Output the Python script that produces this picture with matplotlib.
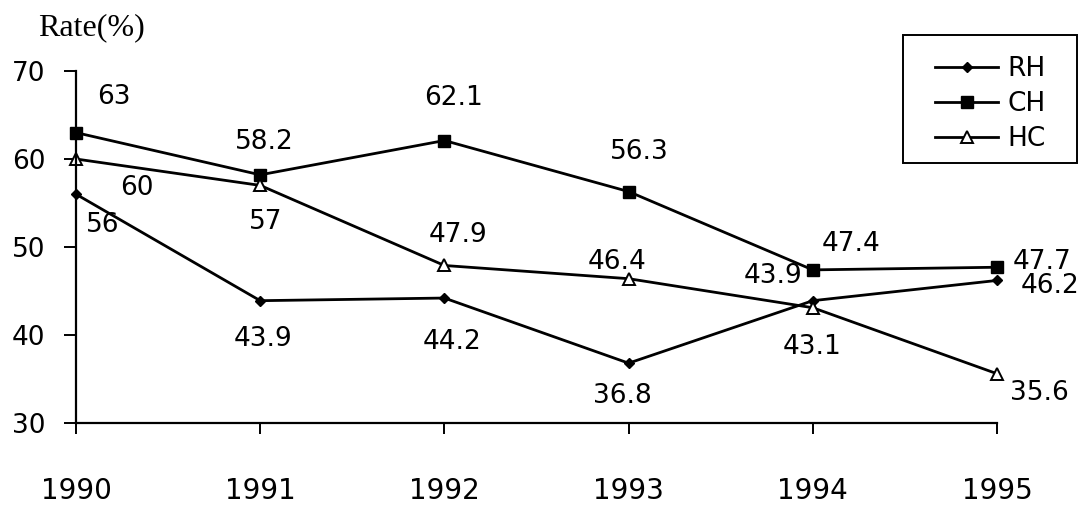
import numpy as np
import matplotlib.pyplot as plt
from matplotlib.patches import Rectangle

years = [1990, 1991, 1992, 1993, 1994, 1995]
rh = [56, 43.9, 44.2, 36.8, 43.9, 46.2]
ch = [63, 58.2, 62.1, 56.3, 47.4, 47.7]
hc = [60, 57, 47.9, 46.4, 43.1, 35.6]
y_ticks = [30, 40, 50, 60, 70]

# label offsets in pixels (dx right, dy down), one per point
rh_off = [(27, 31), (3, 38), (8, 44), (-6, 33), (-40, -25), (53, 6)]
ch_off = [(38, -36), (4, -33), (9, -43), (11, -40), (38, -26), (45, -5)]
hc_off = [(61, 29), (5, 37), (14, -30), (-12, -17), (-1, 39), (42, 19)]

W, H = 1082, 505
fig = plt.figure(figsize=(W / 100, H / 100), dpi=100)
ax = fig.add_axes([76 / W, 1 - 423 / H, (997 - 76) / W, (423 - 71) / H])

lw = 2.0
ax.plot(years, rh, color='black', lw=lw, marker='D', ms=5, label='RH', clip_on=False)
ax.plot(years, ch, color='black', lw=lw, marker='s', ms=8, label='CH', clip_on=False)
ax.plot(years, hc, color='black', lw=lw, marker='^', ms=8, mfc='white', mec='black',
        mew=1.4, label='HC', clip_on=False)


def label_points(vals, offs):
    for x, v, (dx, dy) in zip(years, vals, offs):
        ax.annotate(f"{v:g}", (x, v), xytext=(dx, -dy), textcoords='offset pixels',
                    ha='center', va='center', fontsize=19, family='DejaVu Sans',
                    annotation_clip=False)


label_points(rh, rh_off)
label_points(ch, ch_off)
label_points(hc, hc_off)

ax.set_xlim(1990, 1995)
ax.set_ylim(30, 70)
ax.set_xticks(years)
ax.set_xticklabels([str(y) for y in years])
ax.set_yticks(y_ticks)
for s in ['top', 'right']:
    ax.spines[s].set_visible(False)
for s in ['left', 'bottom']:
    ax.spines[s].set_linewidth(1.6)
ax.tick_params(axis='y', direction='out', length=9, width=1.4, pad=13, labelsize=19)
ax.tick_params(axis='x', direction='out', length=8, width=1.4, pad=31, labelsize=20)

fig.text(91 / W, 1 - 28 / H, 'Rate(%)', family='Liberation Serif', fontsize=23,
         ha='center', va='center')

# legend frame drawn by hand
fig.patches.append(Rectangle((903 / W, 1 - 163 / H), (1077 - 903) / W, (163 - 35) / H,
                             transform=fig.transFigure, fill=False, lw=1.4, ec='black'))
leg = ax.legend(loc='upper left', bbox_to_anchor=(935 / W, 1 - 56 / H),
                bbox_transform=fig.transFigure, frameon=False, fontsize=19,
                handlelength=2.4, handletextpad=0.35, labelspacing=0.35, borderpad=0,
                borderaxespad=0)

fig.savefig('out.png', dpi=100)
